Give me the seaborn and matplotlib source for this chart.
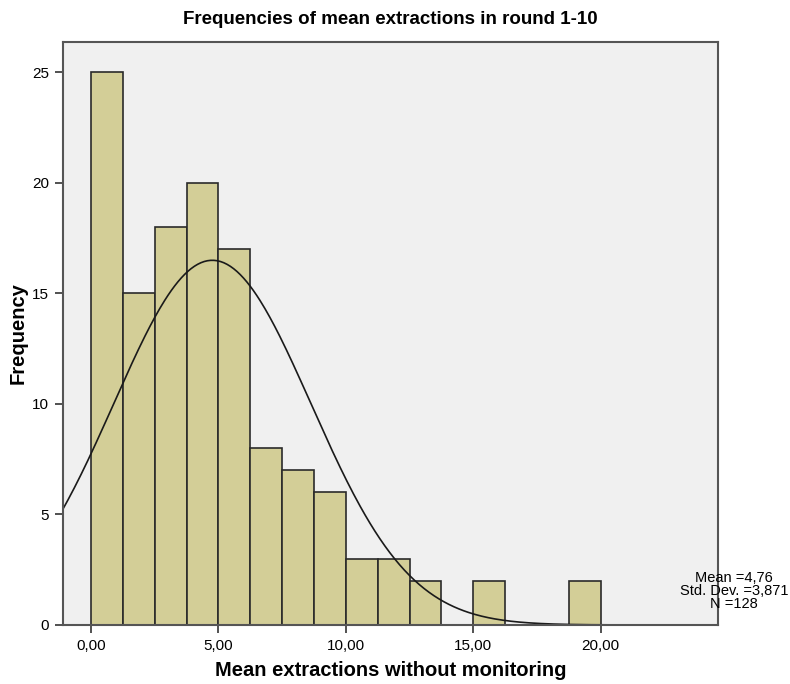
import numpy as np
import pandas as pd
import matplotlib
matplotlib.use('Agg')
import matplotlib.pyplot as plt
import seaborn as sns

# Datos del histograma
bin_edges = [0.0, 1.25, 2.5, 3.75, 5.0, 6.25, 7.5, 8.75, 10.0, 11.25,
             12.5, 13.75, 15.0, 16.25, 17.5, 18.75, 20.0]
counts = [25, 15, 18, 20, 17, 8, 7, 6, 3, 3, 2, 0, 2, 0, 0, 2]
x_ticks = [0, 5, 10, 15, 20]
x_tick_labels = ['0,00', '5,00', '10,00', '15,00', '20,00']
y_ticks = [0, 5, 10, 15, 20, 25]

mean_val = 4.76
sd_val = 3.871
n_val = 128

sns.set_style('white')
plt.rcParams['font.family'] = ['Liberation Sans', 'DejaVu Sans']
plt.rcParams['text.color'] = 'black'
plt.rcParams['axes.labelcolor'] = 'black'

centers = [(a + b) / 2 for a, b in zip(bin_edges[:-1], bin_edges[1:])]
df = pd.DataFrame({'center': centers, 'count': counts})

fig = plt.figure(figsize=(7.9, 6.84), dpi=100)
ax = fig.add_axes([0.0797, 0.0863, 0.8292, 0.8523])
ax.set_facecolor('#f0f0f0')

sns.histplot(data=df, x='center', weights='count', bins=bin_edges,
             color='#d3ce97', alpha=1, edgecolor='#2a2a2a', linewidth=1.2, ax=ax)

# Curva normal ajustada
xs = np.linspace(-1.1, 24.6, 400)
bw = bin_edges[1] - bin_edges[0]
ys = n_val * bw / (sd_val * np.sqrt(2 * np.pi)) * np.exp(-0.5 * ((xs - mean_val) / sd_val) ** 2)
sns.lineplot(x=xs, y=ys, color='#1a1a1a', linewidth=1.2, ax=ax)

ax.set_xlim(-1.1, 24.6)
ax.set_ylim(0, 26.36)
ax.set_xticks(x_ticks)
ax.set_xticklabels(x_tick_labels, fontsize=11)
ax.set_yticks(y_ticks)
ax.set_yticklabels([str(v) for v in y_ticks], fontsize=11)
ax.tick_params(direction='out', length=6, width=1.2, color='#333333',
               labelcolor='black', bottom=True, left=True, pad=4)

for s in ax.spines.values():
    s.set_color('#555555')
    s.set_linewidth(1.5)

ax.set_xlabel('Mean extractions without monitoring', fontsize=14.5,
              fontweight='bold', labelpad=6)
ax.set_ylabel('Frequency', fontsize=14.5, fontweight='bold', labelpad=3)
ax.set_title('Frequencies of mean extractions in round 1-10', fontsize=13.5,
             fontweight='bold', pad=13)

fig.text(0.929, 0.165, 'Mean =4,76\nStd. Dev. =3,871\nN =128',
         ha='center', va='top', fontsize=10.5, linespacing=0.92)

plt.savefig('out.png', dpi=100, facecolor='white')
